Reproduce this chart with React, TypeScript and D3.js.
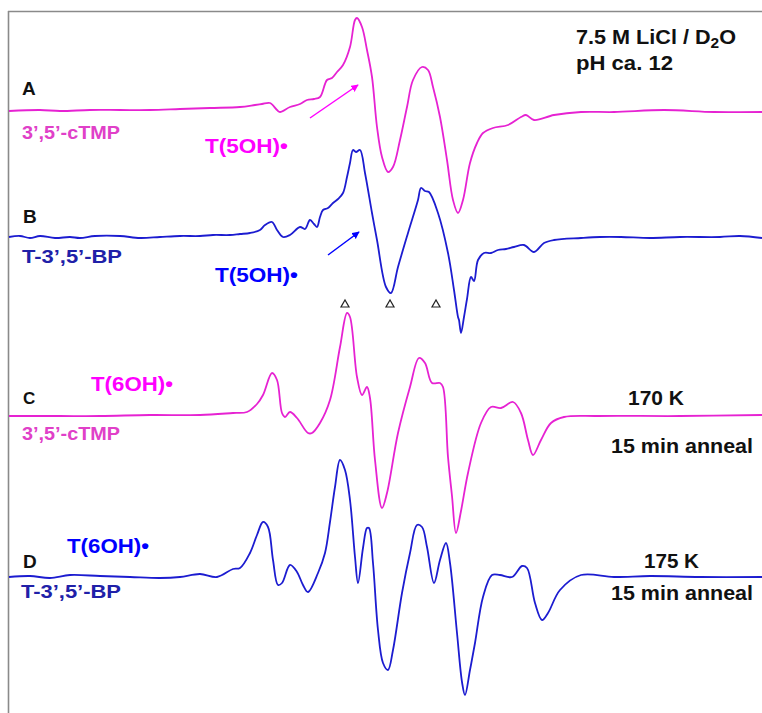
import React from "react";
import * as d3 from "d3";

// Field position (arbitrary units along the sweep) and derivative intensity (arbitrary units, + up)
const traceA: [number, number][] = [
  [9, 0], [40, 1], [60, 0], [90, 1], [120, 1], [150, 1], [180, 2], [210, 3], [240, 4], [255, 6], [262, 7], [270, 8], [277, 1], [280, -1],
  [290, 4], [300, 7], [307, 11], [314, 12], [320, 14], [327, 31], [332, 33], [337, 39], [343, 46], [350, 64], [355, 91], [357, 93],
  [362, 84], [367, 61], [372, 34], [377, -16], [382, -46], [388, -61], [393, -56], [400, -29], [407, 4], [413, 31],
  [422, 44], [428, 41], [433, 24], [440, -6], [447, -49], [453, -89], [458, -102], [463, -89], [470, -52], [477, -32],
  [483, -22], [493, -17], [508, -14], [521, -6], [526, -4], [534, -9], [554, -4], [581, -1], [614, -1], [664, 1], [714, -1], [762, -1],
];

const traceB: [number, number][] = [
  [9, 0], [20, 1], [30, -1], [40, 1], [55, -1], [70, 0], [80, -1], [95, 1], [120, 1], [140, -1], [160, 0], [180, 1], [200, 1],
  [213, 2], [230, 2], [240, 3], [250, 4], [260, 7], [265, 12], [272, 15], [277, 7], [283, 0], [290, 2], [300, 10], [305, 8],
  [310, 17], [314, 13], [317, 10], [320, 20], [323, 27], [328, 29], [333, 34], [338, 38], [343, 44], [347, 60], [350, 74],
  [353, 87], [356, 85], [360, 87], [365, 64], [372, 24], [377, -3], [386, -50], [391, -56], [398, -30], [408, 4], [418, 37],
  [421, 49], [425, 46], [429, 45], [438, 24], [448, -16], [454, -53], [458, -80], [459, -83], [461, -96], [464, -80],
  [467, -62], [471, -40], [474, -44], [478, -23], [484, -16], [491, -16], [498, -13], [506, -12], [514, -10], [524, -8],
  [534, -15], [544, -6], [554, -3], [581, -1], [600, 0], [621, 0], [650, -1], [680, 0], [720, 0], [740, 1], [762, -1],
];

const traceC: [number, number][] = [
  [9, 0], [60, 0], [100, 0], [150, 1], [200, 1], [233, 3], [247, 4], [257, 12], [263, 21], [272, 43], [277, 36], [282, 3],
  [285, -1], [290, 4], [297, -2], [308, -17], [312, -17], [320, -7], [330, 16], [340, 69], [347, 103], [350, 99], [357, 39],
  [362, 21], [367, 29], [370, 18], [375, -44], [382, -92], [387, -77], [398, -17], [410, 29], [419, 58], [425, 53], [432, 33],
  [440, 33], [443, 29], [448, -41], [452, -80], [456, -117], [461, -95], [468, -57], [481, -7], [491, 9], [501, 8], [513, 14],
  [521, 3], [528, -24], [533, -39], [541, -24], [551, -7], [564, -1], [598, 0], [680, 0], [762, 1],
];

const traceD: [number, number][] = [
  [9, 0], [30, 1], [50, -1], [70, 2], [100, 1], [130, 0], [160, -1], [180, 0], [200, 3], [217, 0], [233, 8], [240, 9],
  [250, 24], [257, 42], [263, 55], [268, 50], [273, 17], [278, -8], [282, -6], [290, 12], [297, 5], [303, -8], [308, -15],
  [318, 4], [325, 24], [330, 55], [335, 90], [340, 117], [345, 107], [350, 77], [355, 20], [358, -6], [363, 29], [367, 49],
  [369, 49], [373, 14], [378, -53], [383, -86], [388, -93], [393, -73], [402, -16], [410, 24], [417, 52], [422, 50],
  [427, 30], [434, -6], [440, 17], [446, 34], [450, 14], [457, -56], [462, -105], [465, -118], [470, -93], [475, -66],
  [483, -20], [492, 2], [500, 2], [512, 0], [522, 11], [527, 9], [535, -26], [542, -43], [548, -36], [560, -13], [581, 2],
  [614, 0], [650, 1], [700, 0], [762, 0],
];

const triangleMarks = [345, 390, 436];

const colMag = "#ff00ff";
const colMagLine = "#e622d2";
const colBlue = "#0000ff";
const colBlueLine = "#1c1cd0";

const W = 762;
const H = 713;

export default function App() {
  const x = d3.scaleLinear().domain([0, 762]).range([0, W]);
  const mkY = (base: number) => d3.scaleLinear().domain([0, 100]).range([base, base - 100]);

  const traces = [
    { data: traceA, base: 111, color: colMagLine },
    { data: traceB, base: 237, color: colBlueLine },
    { data: traceC, base: 416, color: colMagLine },
    { data: traceD, base: 577, color: colBlueLine },
  ];

  const font = "'Liberation Sans', Arial, sans-serif";

  const arrowA = { x1: 310, y1: 118, x2: 358, y2: 85 };
  const arrowB = { x1: 328, y1: 255, x2: 359, y2: 232 };

  const txt = (
    s: React.ReactNode,
    xx: number,
    yy: number,
    size: number,
    fill: string,
    len?: number,
    key?: string
  ) => (
    <text
      key={key}
      x={xx}
      y={yy}
      fontSize={size}
      fontWeight="bold"
      fill={fill}
      fontFamily={font}
      textLength={len}
      lengthAdjust={len ? "spacingAndGlyphs" : undefined}
    >
      {s}
    </text>
  );

  return (
    <svg
      width={W}
      height={H}
      style={{ position: "absolute", left: 0, top: 0, background: "#fff" }}
    >
      <defs>
        <marker id="hm" viewBox="0 0 10 10" refX="9" refY="5" markerWidth="5" markerHeight="5" orient="auto">
          <path d="M0,0 L10,5 L0,10 z" fill={colMag} />
        </marker>
        <marker id="hb" viewBox="0 0 10 10" refX="9" refY="5" markerWidth="5" markerHeight="5" orient="auto">
          <path d="M0,0 L10,5 L0,10 z" fill={colBlue} />
        </marker>
      </defs>
      <rect x={0} y={0} width={W} height={H} fill="#fff" />
      {/* frame */}
      <line x1={8.5} y1={11} x2={8.5} y2={H} stroke="#8a8a8a" strokeWidth={1.6} />
      <line x1={8} y1={11.5} x2={W} y2={11.5} stroke="#8a8a8a" strokeWidth={1.6} />

      {traces.map((t, i) => {
        const y = mkY(t.base);
        const line = d3
          .line<[number, number]>()
          .x((d) => x(d[0]))
          .y((d) => y(d[1]))
          .curve(d3.curveCatmullRom.alpha(0.5));
        return <path key={i} d={line(t.data) || ""} fill="none" stroke={t.color} strokeWidth={1.8} />;
      })}

      {/* arrows */}
      <line {...arrowA} stroke={colMag} strokeWidth={1.5} markerEnd="url(#hm)" />
      <line {...arrowB} stroke={colBlue} strokeWidth={1.5} markerEnd="url(#hb)" />

      {/* triangles */}
      {triangleMarks.map((m, i) => (
        <path
          key={i}
          d={`M${x(m) - 4},307 L${x(m) + 4},307 L${x(m)},300 Z`}
          fill="none"
          stroke="#222"
          strokeWidth={1.2}
        />
      ))}

      {txt("A", 22, 95, 19, "#111")}
      {txt("B", 23, 223, 19, "#111")}
      {txt("C", 23, 404, 17, "#111")}
      {txt("D", 23, 568, 19, "#111")}

      {txt("3\u2019,5\u2019-cTMP", 22, 139, 19, "#e040c8", 98)}
      {txt("T-3\u2019,5\u2019-BP", 22, 263, 19, "#2020a8", 100)}
      {txt("3\u2019,5\u2019-cTMP", 22, 440, 19, "#e040c8", 98)}
      {txt("T-3\u2019,5\u2019-BP", 21, 598, 19, "#2020a8", 100)}

      {txt("T(5OH)\u2022", 205, 153, 21, colMag, 83)}
      {txt("T(5OH)\u2022", 215, 282, 21, colBlue, 83)}
      {txt("T(6OH)\u2022", 91, 391, 21, colMag, 82)}
      {txt("T(6OH)\u2022", 67, 553, 21, colBlue, 82)}

      <text
        x={576}
        y={44}
        fontSize={21}
        fontWeight="bold"
        fill="#111"
        fontFamily={font}
        textLength={160}
        lengthAdjust="spacingAndGlyphs"
      >
        7.5 M LiCl / D<tspan fontSize={15} dy={4}>2</tspan>
        <tspan dy={-4}>O</tspan>
      </text>
      {txt("pH ca. 12", 576, 70, 21, "#111", 97)}

      {txt("170 K", 628, 405, 20, "#111", 56)}
      {txt("15 min anneal", 611, 453, 20, "#111", 142)}
      {txt("175 K", 644, 568, 20, "#111", 55)}
      {txt("15 min anneal", 611, 600, 20, "#111", 142)}
    </svg>
  );
}
